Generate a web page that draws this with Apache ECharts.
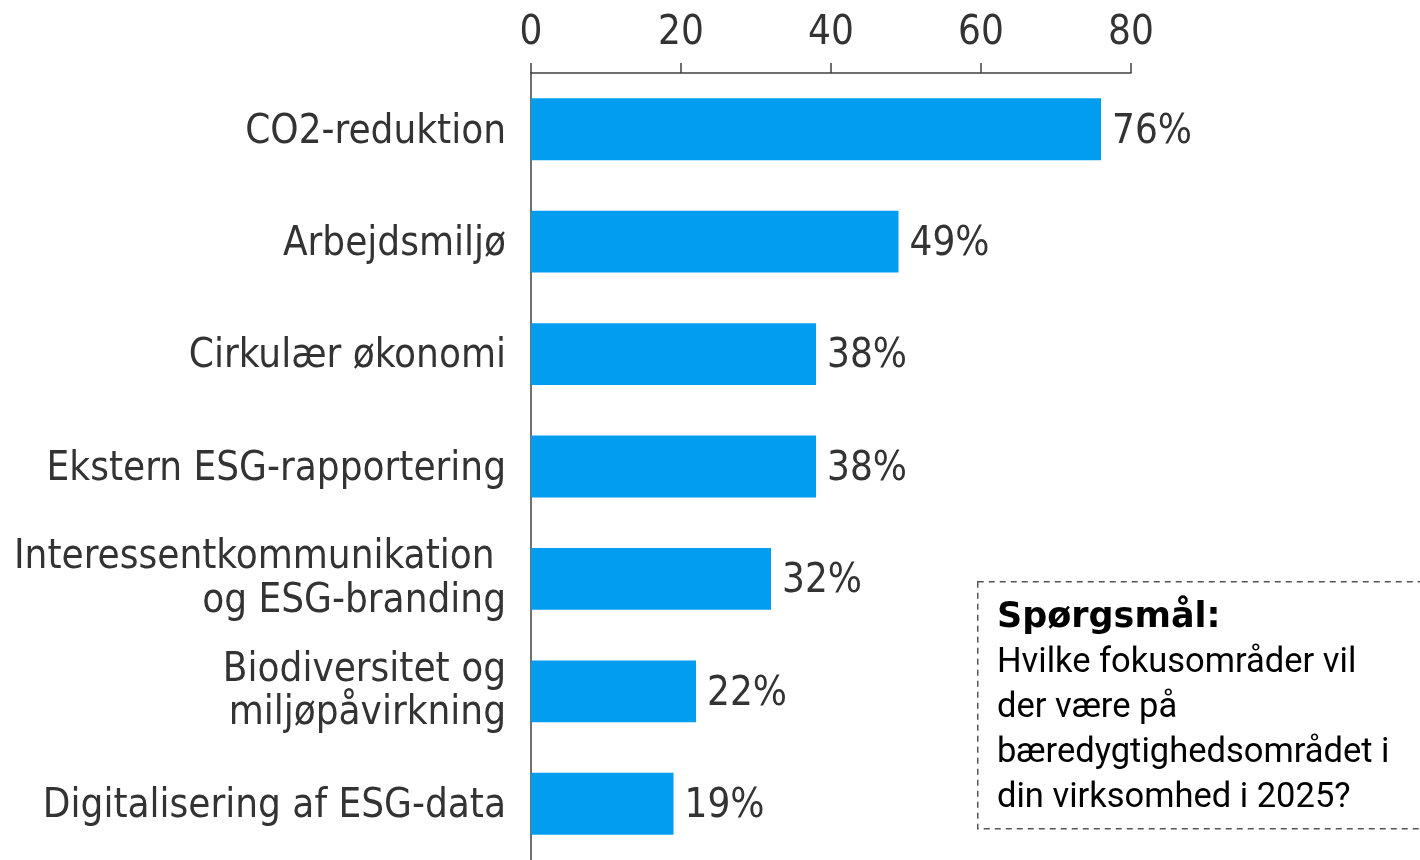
<!DOCTYPE html>
<html>
<head>
<meta charset="utf-8">
<script src="https://cdn.jsdelivr.net/npm/echarts@6/dist/echarts.min.js"></script>
<style>
  html, body { margin: 0; padding: 0; background: #fff; }
  #chart { width: 1420px; height: 860px; }
</style>
</head>
<body>
<div id="chart"></div>
<script>
// kategorier (oppefra og ned)
const categories = [
  'CO2-reduktion',
  'Arbejdsmiljø',
  'Cirkulær økonomi',
  'Ekstern ESG-rapportering',
  'Interessentkommunikation \nog ESG-branding',
  'Biodiversitet og\nmiljøpåvirkning',
  'Digitalisering af ESG-data'
]
// andel af svar i procent
const values = [76, 49, 38, 38, 32, 22, 19]
// x-akse
const axisMin = 0
const axisMax = 80
const axisStep = 20

// spørgsmålstekst i boksen
const questionTitle = 'Spørgsmål:'
const questionLines = [
  'Hvilke fokusområder vil',
  'der være på',
  'bæredygtighedsområdet i',
  'din virksomhed i 2025?'
]

const textColor = '#333333'
const barColor = '#039DEF'
const labelFont = '"DejaVu Sans Condensed", "DejaVu Sans"'

const labelText = {
  color: textColor,
  fontFamily: labelFont,
  fontSize: 40,
  lineHeight: 45,
  align: 'right'
}

const chart = echarts.init(document.getElementById('chart'))
chart.setOption({
  backgroundColor: '#ffffff',
  animation: false,
  grid: {
    left: 531,
    top: 73,
    width: 600,
    height: 793
  },
  xAxis: {
    type: 'value',
    position: 'top',
    min: axisMin,
    max: axisMax,
    interval: axisStep,
    splitLine: {show: false},
    axisLine: {show: true, lineStyle: {color: '#404040', width: 1.5}},
    axisTick: {show: true, inside: false, length: 10, lineStyle: {color: '#404040', width: 1.5}},
    axisLabel: {
      color: textColor,
      fontFamily: labelFont,
      fontSize: 40,
      margin: 19
    }
  },
  yAxis: {
    type: 'category',
    inverse: true,
    data: categories,
    axisLine: {show: true, lineStyle: {color: '#404040', width: 1.5}},
    axisTick: {show: false},
    axisLabel: {
      margin: 25,
      align: 'right',
      // første linje får lidt luft foroven, så teksten flyttes et par px ned
      formatter: v => v.split('\n').map((line, i) => (i === 0 ? '{f|' : '{t|') + line + '}').join('\n'),
      rich: {
        f: {...labelText, padding: [6, 0, 0, 0]},
        t: {...labelText, lineHeight: 48}
      }
    }
  },
  series: [
    {
      type: 'bar',
      data: values,
      barCategoryGap: '45%',
      itemStyle: {color: barColor},
      label: {
        show: true,
        position: 'right',
        distance: 11,
        formatter: '{c}%',
        color: textColor,
        fontFamily: labelFont,
        fontSize: 40,
        offset: [0, 3]
      }
    }
  ],
  graphic: [
    {
      type: 'rect',
      left: 977,
      top: 581,
      shape: {width: 460, height: 247},
      style: {fill: 'transparent', stroke: '#555555', lineWidth: 1.5, lineDash: [6, 5]}
    },
    {
      type: 'text',
      left: 997,
      top: 600,
      style: {
        text: questionTitle,
        fill: '#000000',
        font: 'bold 35px "DejaVu Sans"'
      }
    },
    {
      type: 'text',
      left: 997,
      top: 641,
      style: {
        text: questionLines.join('\n'),
        fill: '#000000',
        font: '34.5px Roboto',
        lineHeight: 45
      }
    }
  ]
})
</script>
</body>
</html>
